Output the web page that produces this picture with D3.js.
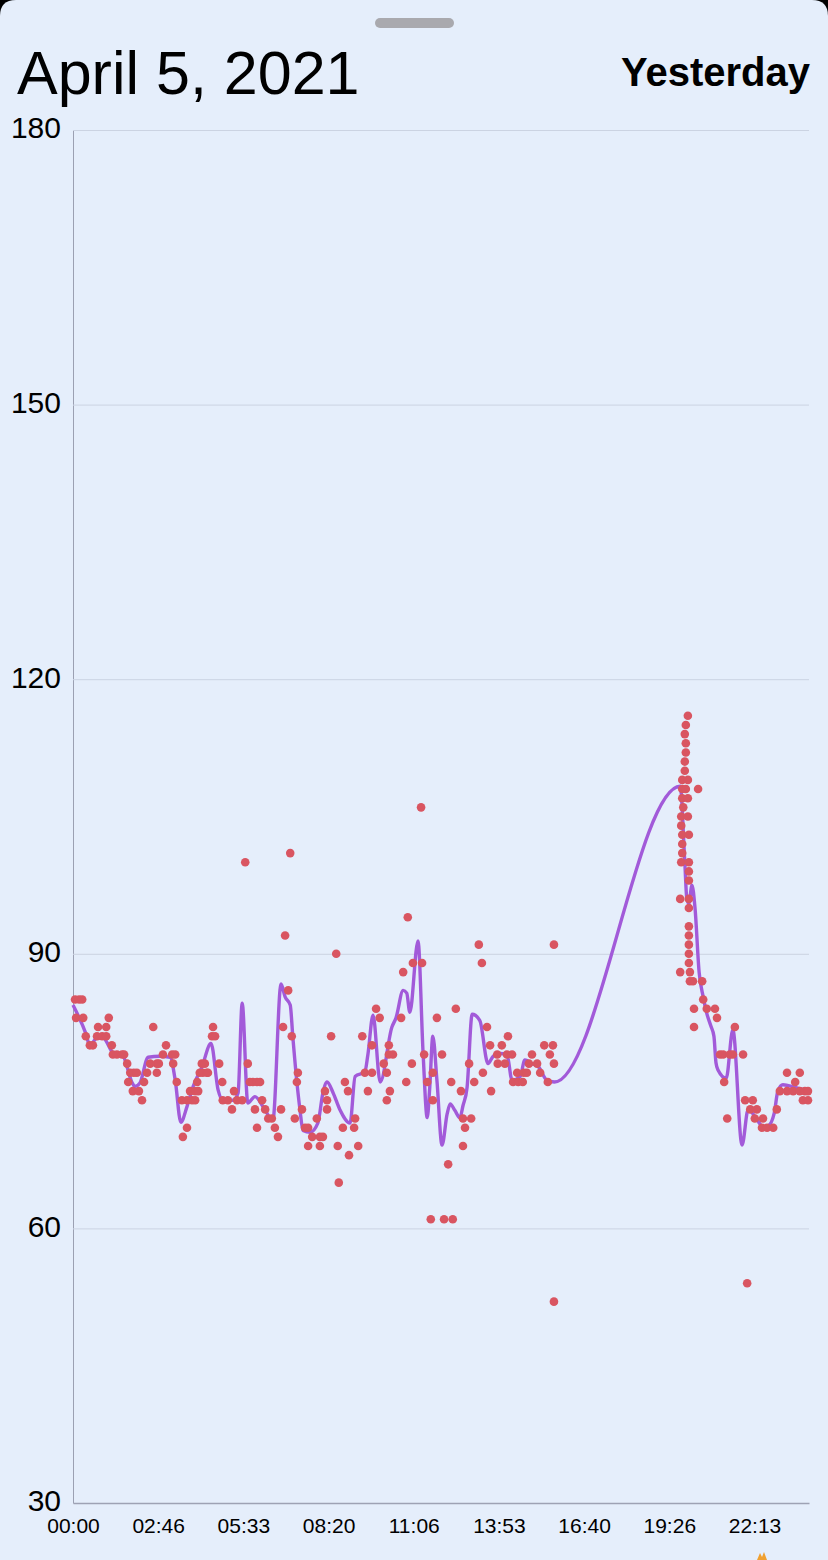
<!DOCTYPE html>
<html>
<head>
<meta charset="utf-8">
<script src="https://cdn.jsdelivr.net/npm/d3@7"></script>
<style>
  html, body { margin: 0; padding: 0; background: #000; }
  svg { display: block; }
</style>
</head>
<body>
<svg id="chart" width="828" height="1560"></svg>
<script>
// ---------- data ----------
const title = "April 5, 2021";
const subtitle = "Yesterday";

const yTicks = [30, 60, 90, 120, 150, 180];
const xTickMinutes = [0, 166.667, 333.333, 500, 666.667, 833.333, 1000, 1166.667, 1333.333];
const xTickLabels = ["00:00", "02:46", "05:33", "08:20", "11:06", "13:53", "16:40", "19:26", "22:13"];

// scatter readings: minutes of day / value
const pointMinutes = [
  4,12,18,6,20,25,33,39,47,57,65,49,65,70,76,78,86,96,100,106,112,119,125,108,117,129,135,139,145,151,164,168,157,164,176,182,194,200,196,203,
  213,223,233,239,215,223,229,239,245,243,248,254,262,252,258,264,272,278,274,286,292,293,303,311,315,321,331,337,342,346,352,360,366,356,360,
  370,376,382,389,395,401,407,411,415,421,425,428,434,438,440,448,454,460,460,468,477,483,483,489,493,497,497,505,515,518,520,528,532,538,540,
  550,552,558,566,571,577,585,585,593,600,608,614,614,618,618,620,626,642,646,652,655,663,665,681,683,687,693,700,704,704,712,722,726,734,740,
  743,749,759,763,763,767,775,779,785,794,800,802,810,816,818,830,831,839,845,849,851,859,861,869,871,880,882,888,892,898,908,914,922,929,933,
  939,941,941,941,
  1203,1199,1197,1199,1199,1197,1197,1192,1203,1192,1199,1223,1192,1203,1194,1190,1203,1190,1192,1205,1192,1192,1190,1205,1205,1205,1188,1205,
  1205,1205,1205,1205,1205,1205,1188,1207,1207,1213,1231,
  1233,1215,1240,1256,1260,1215,1266,1272,1285,1291,1311,1274,1280,1295,1315,1330,1325,1338,1334,1350,1348,1358,1370,1377,1397,1422,1413,1383,
  1397,1409,1422,1432,1428,1438,1438,1319
];
const pointValues = [
  85,85,85,83,83,81,80,80,81,81,81,82,82,83,80,79,79,79,79,78,77,77,77,76,75,75,74,76,77,78,78,78,82,77,79,80,79,79,78,76,
  74,74,74,74,70,71,75,75,75,76,77,77,77,78,78,77,81,81,82,78,76,74,74,73,75,74,74,100,78,76,76,76,76,73,71,
  74,73,72,72,71,70,73,82,92,86,101,81,72,76,77,73,71,71,69,70,72,70,69,70,75,74,73,81,90,69,65,71,76,75,68,
  71,72,69,81,77,75,77,80,84,83,78,77,74,80,79,75,79,83,88,76,94,78,89,106,89,79,76,61,77,74,83,79,61,67,76,
  61,84,75,72,69,71,78,72,76,91,89,77,82,80,75,79,78,80,78,79,81,79,76,77,76,76,77,77,78,79,78,77,80,76,79,
  80,91,78,52,
  116,115,114,113,112,111,110,109,109,108,108,108,107,107,106,105,105,104,103,103,102,101,100,100,99,98,96,96,
  95,93,92,91,90,89,88,88,87,87,87,
  85,84,84,84,83,82,79,79,79,79,79,76,72,82,74,74,73,73,72,72,71,71,71,73,77,77,76,75,
  75,75,75,75,74,75,74,54
];

// smoothed trend line: minutes of day / value
const lineMinutes = [
  0,25,33,47,59,78,98,115,121,131,147,170,190,200,211,223,235,252,270,284,293,313,323,331,342,356,372,391,407,415,425,430,438,444,450,464,
  479,489,497,509,522,542,552,571,577,587,601,624,632,646,653,659,675,685,693,698,704,712,722,732,738,747,757,763,771,781,796,812,822,835,
  849,859,875,884,898,910,927,942,1188,1197,1201,1205,1211,1217,1225,1233,1240,1248,1254,1258,1262,1278,1291,1309,1321,1338,1350,1360,
  1372,1379,1389,1413,1440
];
const lineValues = [
  84.4,81.3,80.0,80.8,80.8,79.2,78.8,76.0,75.5,75.9,78.7,78.8,78.7,76.2,71.6,73.3,75.5,77.6,80.2,75.1,74.0,74.0,74.8,84.6,73.7,74.4,73.3,
  71.8,86.7,85.3,84.4,81.0,76.0,73.0,70.7,70.5,71.5,74.8,76.0,74.8,73.0,71.5,76.6,77.1,79.0,83.3,76.0,82.0,83.0,86.0,85.7,83.6,91.4,79.1,
  72.1,75.4,81.0,76.2,69.1,72.5,73.6,72.9,72.1,73.4,75.4,83.4,82.7,78.0,78.8,79.1,79.0,76.2,76.6,78.4,78.0,77.7,76.2,76.0,108.3,100,96,95.5,
  97.5,95,88,85.3,83.5,82.1,81,78.1,77.3,76.4,81.7,69.1,73,71.9,71.1,71.2,72.6,75.0,75.7,75.4,75
];

// ---------- drawing ----------
const W = 828, H = 1560;
const svg = d3.select("#chart");

// sheet background with rounded top corners
const r = 16;
svg.append("path")
  .attr("d", `M0,${r} Q0,0 ${r},0 L${W - r},0 Q${W},0 ${W},${r} L${W},${H} L0,${H} Z`)
  .attr("fill", "#e5eefb");

// grab handle
svg.append("rect")
  .attr("x", 375).attr("y", 18).attr("width", 79).attr("height", 10).attr("rx", 5)
  .attr("fill", "#a9a9ae");

svg.append("text")
  .attr("x", 17).attr("y", 94)
  .attr("font-family", "Liberation Sans, Arial, sans-serif")
  .attr("font-size", 61)
  .attr("fill", "#000")
  .text(title);

svg.append("text")
  .attr("x", 810).attr("y", 86)
  .attr("text-anchor", "end")
  .attr("font-family", "Liberation Sans, Arial, sans-serif")
  .attr("font-weight", "bold")
  .attr("font-size", 40)
  .attr("fill", "#000")
  .text(subtitle);

const x = d3.scaleLinear().domain([0, 1440]).range([73, 809]);
const y = d3.scaleLinear().domain([30, 180]).range([1503, 130]);

// y axis with gridlines
const gy = svg.append("g")
  .attr("transform", "translate(73,0)")
  .call(d3.axisLeft(y).tickValues(yTicks).tickSize(-(809 - 73)).tickSizeOuter(0).tickPadding(12).tickFormat(d => d));
gy.select(".domain").attr("stroke", "#9ba0b2").attr("stroke-width", 1);
gy.selectAll(".tick line").attr("stroke", "#cbd3e2").attr("stroke-width", 1)
  .filter(d => d === 30).remove();
gy.selectAll(".tick text")
  .attr("font-family", "Liberation Sans, Arial, sans-serif")
  .attr("font-size", 30)
  .attr("fill", "#000")
  .attr("dy", "0.26em");

// x axis
const gx = svg.append("g")
  .attr("transform", "translate(0,1503)")
  .call(d3.axisBottom(x).tickValues(xTickMinutes).tickSize(0).tickSizeOuter(0).tickPadding(15)
    .tickFormat((d, i) => xTickLabels[i]));
gx.select(".domain").attr("stroke", "#9ea2b4").attr("stroke-width", 1.5);
gx.selectAll(".tick text")
  .attr("font-family", "Liberation Sans, Arial, sans-serif")
  .attr("font-size", 21)
  .attr("fill", "#000");

// trend line
const lineData = lineMinutes.map((m, i) => [m, lineValues[i]]);
svg.append("path")
  .datum(lineData)
  .attr("fill", "none")
  .attr("stroke", "#a25ad9")
  .attr("stroke-width", 3.4)
  .attr("stroke-linejoin", "round")
  .attr("d", d3.line().x(d => x(d[0])).y(d => y(d[1])).curve(d3.curveMonotoneX));

// points
const pts = pointMinutes.map((m, i) => [m, pointValues[i]]);
svg.append("g").selectAll("circle")
  .data(pts)
  .join("circle")
  .attr("cx", d => x(d[0]))
  .attr("cy", d => y(d[1]))
  .attr("r", 4.3)
  .attr("fill", "#d95561");

// small partially visible orange mark at the bottom edge
svg.append("path")
  .attr("d", "M757,1560 L760,1553 L762,1557 L764,1552 L767,1560 Z")
  .attr("fill", "#f0a030");
</script>
</body>
</html>
